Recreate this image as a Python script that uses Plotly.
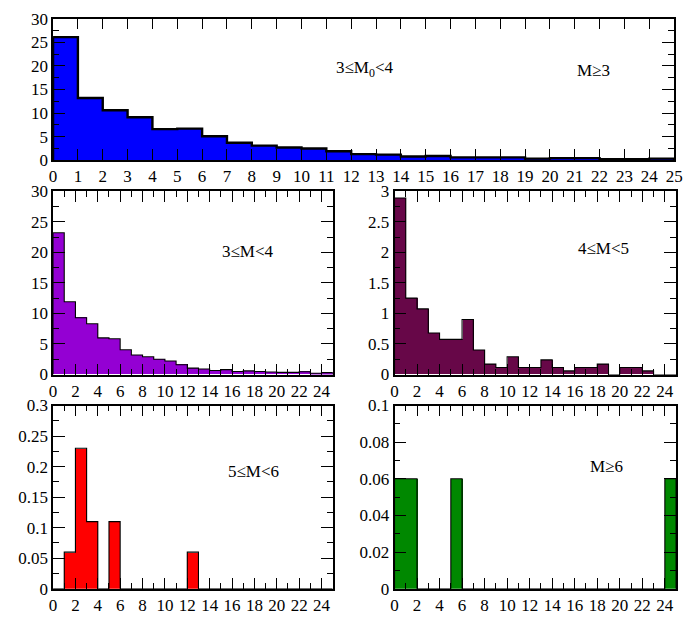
import plotly.graph_objects as go

# ---- data (bins of width 1 starting at 0) ----
bin_edges = list(range(0, 26))
all_m3 = [26.1, 13.2, 10.6, 9.1, 6.6, 6.7, 5.1, 3.7, 3.1, 2.7, 2.5, 1.9, 1.3, 1.2,
          0.8, 0.9, 0.6, 0.6, 0.6, 0.35, 0.45, 0.45, 0.2, 0.2, 0.35]
m3_4 = [23.2, 11.9, 9.3, 8.3, 6.0, 5.85, 4.05, 3.2, 2.9, 2.5, 2.2, 1.6, 1.05, 0.9,
        0.65, 0.8, 0.5, 0.6, 0.5, 0.4, 0.35, 0.35, 0.45, 0.2, 0.3]
m4_5 = [2.89, 1.25, 1.075, 0.68, 0.575, 0.575, 0.9, 0.4, 0.17, 0.115, 0.29, 0.115,
        0.115, 0.24, 0.115, 0.06, 0.115, 0.115, 0.17, 0.0, 0.115, 0.115, 0.06, 0.0, 0.0]
m5_6 = [0.0, 0.06, 0.23, 0.11, 0.0, 0.11, 0.0, 0.0, 0.0, 0.0, 0.0, 0.0, 0.06, 0.0,
        0.0, 0.0, 0.0, 0.0, 0.0, 0.0, 0.0, 0.0, 0.0, 0.0, 0.0]
m6 = [0.06, 0.06, 0.0, 0.0, 0.0, 0.06, 0.0, 0.0, 0.0, 0.0, 0.0, 0.0, 0.0, 0.0,
      0.0, 0.0, 0.0, 0.0, 0.0, 0.0, 0.0, 0.0, 0.0, 0.0, 0.06]

centers = [e + 0.5 for e in bin_edges[:-1]]

W, H = 690, 623
FONT = '"Liberation Serif", "Times New Roman", Times, serif'


def px_x(a, b):
    return [a / W, b / W]


def px_y(top, bottom):
    return [1 - bottom / H, 1 - top / H]


fig = go.Figure()

panels = [
    # values, colour, xaxis, yaxis, xdom, ydom, yrange, ydtick, yminor, xdtick, xminor, outline width
    (all_m3, "#0000ff", "x", "y", px_x(50, 683), px_y(10, 156), [0, 30], 5, 2.5, 1, None, 2.4),
    (m3_4, "#9400d3", "x2", "y2", px_x(50, 335), px_y(188, 377), [0, 30], 5, 2.5, 2, 1, 1.1),
    (m4_5, "#670748", "x3", "y3", px_x(398, 685), px_y(188, 377), [0, 3], 0.5, 0.25, 2, 1, 1.1),
    (m5_6, "#ff0000", "x4", "y4", px_x(50, 335), px_y(409, 598), [0, 0.3], 0.05, 0.025, 2, 1, 1.1),
    (m6, "#008800", "x5", "y5", px_x(398, 685), px_y(409, 598), [0, 0.1], 0.02, 0.01, 2, 1, 1.1),
]

layout_axes = {}
for i, (vals, col, xa, ya, xdom, ydom, yr, ydt, ymin, xdt, xmin, lw) in enumerate(panels):
    fig.add_trace(go.Bar(
        x=centers, y=vals, width=1, xaxis=xa, yaxis=ya,
        marker=dict(color=col, line=dict(width=0)),
        showlegend=False, hoverinfo="skip"))
    # histogram step outline
    sx = [bin_edges[0]] + bin_edges + [bin_edges[-1]]
    sy = [0] + vals + [vals[-1], 0]
    fig.add_trace(go.Scatter(
        x=sx, y=sy, mode="lines", line_shape="hv",
        line=dict(color="black", width=lw), xaxis=xa, yaxis=ya,
        showlegend=False, hoverinfo="skip", cliponaxis=False))
    xkey = "xaxis" + xa[1:]
    ykey = "yaxis" + ya[1:]
    xax = dict(domain=xdom, range=[0, 25], anchor=ya, showgrid=False, zeroline=False,
               showline=True, linecolor="black", linewidth=1.5, mirror="allticks",
               ticks="inside", ticklen=11, tickwidth=1.3, tickcolor="black",
               tick0=0, dtick=xdt, tickfont=dict(family=FONT, size=17, color="black"),
               ticklabeloverflow="allow", fixedrange=True)
    if xmin:
        xax["minor"] = dict(ticks="inside", dtick=xmin, tick0=0, ticklen=6,
                            tickwidth=1.3, tickcolor="black", showgrid=False)
    yax = dict(domain=ydom, range=yr, anchor=xa, showgrid=False, zeroline=False,
               showline=True, linecolor="black", linewidth=1.5, mirror="allticks",
               ticks="inside", ticklen=12, tickwidth=1.3, tickcolor="black",
               tick0=0, dtick=ydt, tickfont=dict(family=FONT, size=17, color="black"),
               ticklabeloverflow="allow",
               minor=dict(ticks="inside", dtick=ymin, tick0=0, ticklen=6,
                          tickwidth=1.3, tickcolor="black", showgrid=False),
               fixedrange=True)
    layout_axes[xkey] = xax
    layout_axes[ykey] = yax

labels = ["3≤M<sub>0</sub><4", "M≥3", "3≤M<4", "4≤M<5", "5≤M<6", "M≥6"]
label_px = [(367, 62), (601, 63), (249, 250), (611, 247), (254, 477), (614, 472)]
annotations = [
    dict(text=t, x=p[0] / W, y=1 - p[1] / H, xref="paper", yref="paper", showarrow=False,
         xanchor="center", yanchor="middle", font=dict(family=FONT, size=17, color="black"))
    for t, p in zip(labels, label_px)
]

fig.update_layout(
    width=W, height=H, margin=dict(l=0, r=0, t=0, b=0, pad=0),
    paper_bgcolor="white", plot_bgcolor="white", bargap=0,
    annotations=annotations, **layout_axes)

fig.write_html(
    "out.html",
    post_script="document.body.style.margin='0';document.body.style.padding='0';"
                "document.documentElement.style.overflow='hidden';")
